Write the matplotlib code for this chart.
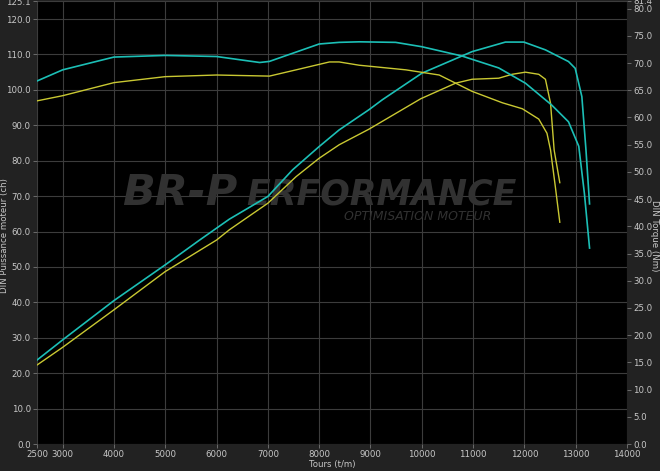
import numpy as np
import matplotlib.pyplot as plt

# cyan run
rpm_pw_c = [2500, 3000, 4000, 5000, 5670, 6250, 7000, 7480, 8000, 8390, 8970, 9230, 10000,
            10980, 11630, 11990, 12410, 12860, 12990, 13120, 13200, 13270]
pw_c = [23.7, 29.4, 40.5, 50.6, 57.6, 63.5, 69.9, 77.4, 84.0, 88.7, 94.4, 97.2, 104.7,
        110.8, 113.5, 113.5, 111.3, 108.0, 106.1, 98.1, 83.1, 67.8]
rpm_tq_c = [2500, 3000, 4000, 5000, 6000, 6840, 7030, 8000, 8390, 8780, 9490, 10000, 10780,
            11500, 12020, 12530, 12860, 13060, 13170, 13270]
tq_c = [66.7, 68.75, 71.1, 71.4, 71.2, 70.1, 70.3, 73.5, 73.8, 73.9, 73.8, 73.0, 71.3,
        69.1, 66.3, 62.3, 59.2, 54.7, 46.0, 36.0]

# yellow run
rpm_pw_y = [2500, 3000, 4000, 5000, 6000, 6250, 7000, 7550, 8000, 8390, 8970, 9980, 10660,
            10980, 11500, 11760, 12020, 12280, 12410, 12510, 12580, 12690]
pw_y = [22.3, 27.3, 37.9, 48.7, 57.6, 60.5, 68.0, 75.5, 80.7, 84.5, 88.9, 97.5, 101.9,
        103.0, 103.3, 104.4, 105.0, 104.4, 103.0, 96.2, 83.0, 73.8]
rpm_tq_y = [2500, 3000, 4000, 5000, 6000, 7030, 7550, 8200, 8390, 8780, 9690, 10340, 10980,
            11570, 11960, 12280, 12440, 12510, 12600, 12690]
tq_y = [63.05, 64.0, 66.4, 67.5, 67.8, 67.6, 68.75, 70.2, 70.2, 69.6, 68.75, 67.8, 64.8,
        62.7, 61.6, 59.7, 57.1, 54.0, 47.5, 40.75]

x_ticks = [2500] + list(range(3000, 14001, 1000))
left_ticks = list(np.arange(0, 121, 10)) + [125.1]
right_ticks = list(np.arange(0, 81, 5)) + [81.4]

cyan = '#1cbfb6'
yellow = '#c9c832'
txt = '#c8c8c8'
wm = '#313131'

fig = plt.figure(figsize=(6.6, 4.71), dpi=100, facecolor='#222222')
ax = fig.add_axes([37/660, 27/471, 590/660, 443/471])
ax.set_facecolor('black')
ax2 = ax.twinx()
ax2.patch.set_visible(False)

ax.set_xlim(2500, 14000)
ax.set_ylim(0, 125.1)
ax2.set_ylim(0, 81.4)

ax.set_xticks(x_ticks)
ax.set_yticks(left_ticks)
ax.set_yticklabels(['%.1f' % v for v in left_ticks])
ax2.set_yticks(right_ticks)
ax2.set_yticklabels(['%.1f' % v for v in right_ticks])

for a in (ax, ax2):
    for s in a.spines.values():
        s.set_visible(False)
    a.tick_params(colors='#777777', labelcolor=txt, labelsize=6.2, length=3, width=0.6, pad=1.5)

ax.grid(True, color='#3c3c3c', lw=0.8)
ax.set_axisbelow(True)

fig.text(332/660, 1 - 464/471, 'Tours (t/m)', ha='center', va='center',
         color=txt, fontsize=6.2)
fig.text(5/660, 0.5, 'DIN Puissance moteur (ch)', rotation=90, ha='center', va='center',
         color=txt, fontsize=6.2)
fig.text(655/660, 0.5, 'DIN Torque (Nm)', rotation=270, ha='center', va='center',
         color=txt, fontsize=6.2)

# watermark
ax.text(0.144, 0.54, 'BR-P', transform=ax.transAxes, ha='left', va='baseline',
        color=wm, fontsize=31, fontweight='bold', style='italic', zorder=1)
ax.text(0.355, 0.54, 'ERFORMANCE', transform=ax.transAxes, ha='left', va='baseline',
        color=wm, fontsize=25, fontweight='bold', style='italic', zorder=1)
ax.text(0.52, 0.505, 'OPTIMISATION MOTEUR', transform=ax.transAxes, ha='left', va='baseline',
        color=wm, fontsize=9, style='italic', zorder=1)

ax.plot(rpm_pw_c, pw_c, color=cyan, lw=1.2, zorder=3)
ax.plot(rpm_pw_y, pw_y, color=yellow, lw=1.0, zorder=3)
ax2.plot(rpm_tq_c, tq_c, color=cyan, lw=1.2, zorder=3)
ax2.plot(rpm_tq_y, tq_y, color=yellow, lw=1.0, zorder=3)

fig.savefig('out.png', dpi=100, facecolor=fig.get_facecolor())
